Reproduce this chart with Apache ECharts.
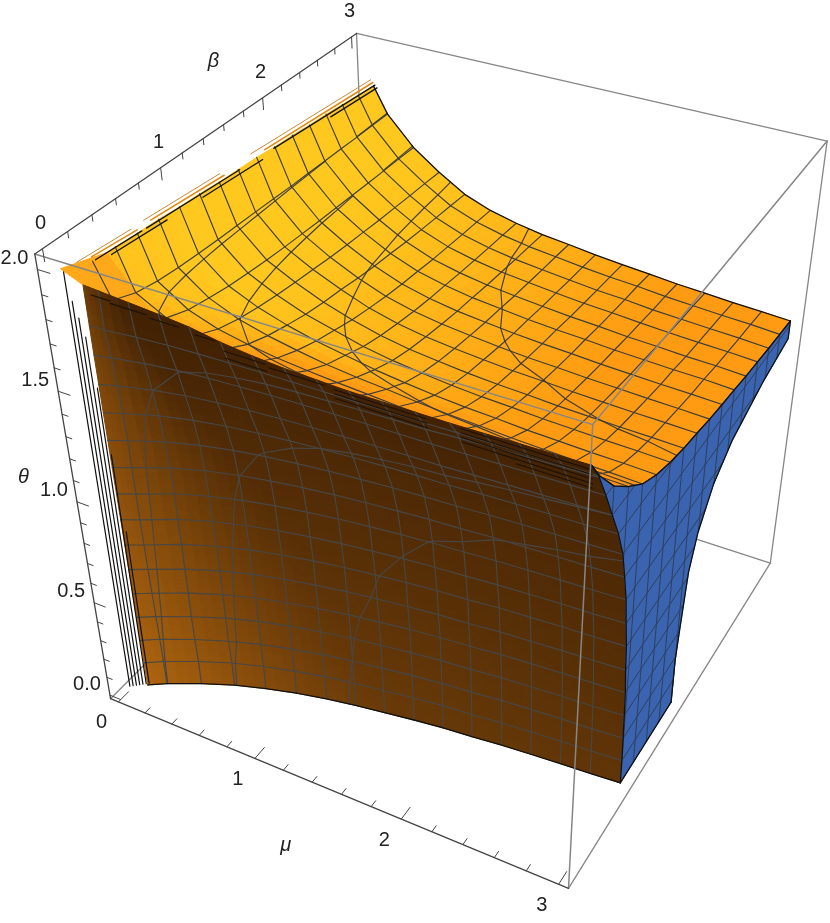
<!DOCTYPE html>
<html>
<head>
<meta charset="utf-8">
<title>Region plot</title>
<script src="https://cdn.jsdelivr.net/npm/echarts@6/dist/echarts.min.js"></script>
<style>
  html, body { margin: 0; background: #fff; }
  #chart { width: 830px; height: 923px; }
</style>
</head>
<body>
<div id="chart"></div>
<script>
// axis ranges of the box, and tick labels
const muRange = [-0.06, 3.06];
const betaRange = [-0.06, 3.06];
const thetaRange = [-0.02, 2.06];
const muLabels = [0, 1, 2, 3];
const betaLabels = [0, 1, 2, 3];
const thetaLabels = ['0.0', '0.5', '1.0', '1.5', '2.0'];

// where the box corners land in the picture, used to fit the camera
// [mu index, beta index, theta index, picture x, picture y]
const cameraCorners = [
  [0, 0, 1, 37.7, 255], [0, 1, 1, 353, 32], [1, 1, 1, 826.7, 140.7], [1, 0, 1, 595, 426],
  [0, 0, 0, 106.7, 696], [1, 0, 0, 568.3, 889.3], [1, 1, 0, 769.3, 561.7], [0, 1, 0, 377, 437]
];

// mesh positions shared by mu and beta
const meshGrid = [0.09, 0.1875, 0.375, 0.5625, 0.75, 0.9375, 1.125, 1.3125, 1.5, 1.6875, 1.875, 2.0625, 2.25, 2.4375, 2.625, 2.8125, 3];

// upper surface: theta at (mu, beta); nearly symmetric so only the upper triangle is kept
const topTheta = [
  [1.985, 1.975, 1.968, 1.96, 1.955, 1.945, 1.94, 1.93, 1.925, 1.92, 1.91, 1.905, 1.895, 1.89, 1.88, 1.87, 1.86],
  [1.837, 1.80, 1.782, 1.773, 1.768, 1.764, 1.762, 1.76, 1.757, 1.754, 1.753, 1.751, 1.75, 1.748, 1.748, 1.746],
  [1.733, 1.698, 1.68, 1.664, 1.654, 1.646, 1.64, 1.636, 1.632, 1.63, 1.627, 1.625, 1.623, 1.622, 1.62],
  [1.654, 1.627, 1.608, 1.594, 1.583, 1.574, 1.564, 1.557, 1.552, 1.546, 1.543, 1.539, 1.537, 1.533],
  [1.593, 1.568, 1.546, 1.531, 1.52, 1.506, 1.495, 1.488, 1.479, 1.473, 1.468, 1.464, 1.459],
  [1.537, 1.513, 1.49, 1.473, 1.459, 1.448, 1.441, 1.432, 1.427, 1.422, 1.419, 1.414],
  [1.48, 1.457, 1.441, 1.427, 1.417, 1.411, 1.403, 1.398, 1.393, 1.39, 1.385],
  [1.434, 1.419, 1.406, 1.396, 1.39, 1.382, 1.377, 1.372, 1.369, 1.364],
  [1.404, 1.392, 1.382, 1.376, 1.368, 1.363, 1.358, 1.355, 1.35],
  [1.379, 1.369, 1.363, 1.355, 1.35, 1.344, 1.34, 1.334],
  [1.36, 1.353, 1.344, 1.338, 1.332, 1.328, 1.322],
  [1.346, 1.336, 1.33, 1.324, 1.32, 1.312],
  [1.326, 1.32, 1.312, 1.308, 1.30],
  [1.312, 1.305, 1.30, 1.292],
  [1.298, 1.292, 1.283],
  [1.286, 1.277],
  [1.27]
];
// theta along the crest, where the upper surface meets the wall (beta = 0.09), one per mu in meshGrid
const crestTheta = [1.915, 1.91, 1.9, 1.89, 1.877, 1.855, 1.84, 1.83, 1.825, 1.82, 1.82, 1.82, 1.82, 1.822, 1.825, 1.828, 1.83];

// front wall: beta at (theta row, mu column); the last row is the crest
const wallThetaRows = [0, 0.125, 0.25, 0.375, 0.5, 0.625, 0.75, 0.875, 1, 1.125, 1.25, 1.375, 1.5, 1.625, 1.75, 1.845];
const wallBeta = [
  [0.12, 0.185, 0.285, 0.37, 0.435, 0.49, 0.535, 0.57, 0.60, 0.63, 0.655, 0.672, 0.695, 0.71, 0.725, 0.737, 0.752],
  [0.118, 0.183, 0.283, 0.368, 0.433, 0.488, 0.533, 0.568, 0.598, 0.628, 0.653, 0.67, 0.693, 0.708, 0.723, 0.735, 0.75],
  [0.115, 0.178, 0.275, 0.358, 0.426, 0.48, 0.525, 0.563, 0.593, 0.623, 0.647, 0.664, 0.687, 0.702, 0.717, 0.727, 0.743],
  [0.112, 0.172, 0.27, 0.356, 0.424, 0.476, 0.521, 0.559, 0.588, 0.617, 0.641, 0.658, 0.68, 0.694, 0.709, 0.719, 0.735],
  [0.11, 0.167, 0.269, 0.353, 0.42, 0.472, 0.515, 0.552, 0.581, 0.61, 0.633, 0.649, 0.671, 0.685, 0.699, 0.709, 0.725],
  [0.108, 0.162, 0.266, 0.348, 0.413, 0.463, 0.505, 0.541, 0.568, 0.595, 0.617, 0.633, 0.654, 0.667, 0.68, 0.69, 0.704],
  [0.106, 0.158, 0.264, 0.345, 0.408, 0.457, 0.498, 0.532, 0.559, 0.585, 0.606, 0.621, 0.641, 0.654, 0.667, 0.676, 0.69],
  [0.104, 0.154, 0.26, 0.338, 0.398, 0.444, 0.483, 0.515, 0.541, 0.565, 0.585, 0.599, 0.617, 0.629, 0.641, 0.649, 0.662],
  [0.102, 0.152, 0.256, 0.331, 0.389, 0.433, 0.469, 0.5, 0.524, 0.546, 0.565, 0.578, 0.595, 0.606, 0.617, 0.625, 0.637],
  [0.1, 0.15, 0.249, 0.319, 0.373, 0.413, 0.446, 0.474, 0.495, 0.515, 0.532, 0.543, 0.559, 0.568, 0.578, 0.585, 0.595],
  [0.098, 0.147, 0.235, 0.30, 0.348, 0.383, 0.412, 0.435, 0.454, 0.471, 0.485, 0.495, 0.51, 0.52, 0.53, 0.538, 0.549],
  [0.096, 0.14, 0.215, 0.269, 0.308, 0.336, 0.358, 0.376, 0.391, 0.403, 0.414, 0.421, 0.435, 0.445, 0.453, 0.46, 0.472],
  [0.094, 0.131, 0.186, 0.226, 0.254, 0.273, 0.289, 0.301, 0.31, 0.318, 0.326, 0.33, 0.34, 0.35, 0.358, 0.367, 0.376],
  [0.092, 0.117, 0.155, 0.184, 0.201, 0.214, 0.224, 0.231, 0.236, 0.241, 0.245, 0.248, 0.255, 0.262, 0.268, 0.275, 0.281],
  [0.091, 0.094, 0.116, 0.131, 0.14, 0.145, 0.15, 0.153, 0.155, 0.157, 0.159, 0.16, 0.165, 0.168, 0.172, 0.175, 0.179],
  [0.09, 0.09, 0.09, 0.09, 0.09, 0.09, 0.09, 0.09, 0.09, 0.09, 0.09, 0.09, 0.09, 0.09, 0.09, 0.09, 0.09]
];

// right edge of the blue cap in the plane mu = 3, from the bottom up: [beta, theta]
const capRightEdge = [[1.5, 0], [1.5, 0.23], [1.53, 0.39], [1.585, 0.65], [1.68, 0.8], [1.87, 0.95], [2.13, 1.05], [2.58, 1.135], [3, 1.185]];

// hair lines along the back left edge: [mu, beta from, theta from, beta to, theta to]
const hairOrangeThin = [[0.07, 0.09, 2, 0.54, 1.98], [0.07, 0.65, 1.98, 1.35, 1.95], [0.07, 1.66, 1.94, 3, 1.886]];
const hairOrange = [[0.085, 0.19, 1.99, 0.57, 1.97], [0.085, 0.69, 1.97, 1.37, 1.94], [0.085, 1.78, 1.925, 3, 1.876]];
const hairBlack = [
  [0.1, 0.2, 1.978, 0.59, 1.962], [0.1, 0.63, 1.96, 1.5, 1.926], [0.1, 1.85, 1.912, 3, 1.866],
  [0.115, 0.31, 1.964, 0.79, 1.944], [0.115, 1.12, 1.931, 1.71, 1.908], [0.115, 2.45, 1.878, 3, 1.856]
];
// dark lines just under the crest: [beta, theta, mu from, mu to]
const crestLines = [
  [0.095, 1.88, 0.13, 0.25], [0.095, 1.87, 0.25, 0.48], [0.095, 1.86, 0.5, 0.68], [0.095, 1.85, 0.78, 0.9],
  [0.095, 1.82, 0.95, 1.2], [0.095, 1.81, 1.22, 1.55], [0.095, 1.805, 1.6, 2.12], [0.095, 1.81, 2.31, 3],
  [0.1, 1.79, 0.95, 1.2], [0.1, 1.785, 1.6, 2.12], [0.1, 1.79, 2.31, 3],
  [0.105, 1.765, 1.6, 2.12], [0.105, 1.77, 2.31, 3],
  [0.11, 1.75, 2.31, 3], [0.115, 1.73, 2.6, 3]
];
// stacked lines at the left of the wall
const stackMu = [0, 0.015, 0.03, 0.045, 0.06, 0.075, 0.088];
const stackBeta = [0.06, 0.073, 0.086, 0.099, 0.112, 0.125, 0.137];
const stackTop = [1.96, 1.84, 1.77, 1.69, 1.47, 1.17, 0.8];
// small piece of the surface at the sharp left tip: [mu, beta, theta]
const tipFace = [[0.02, 0.02, 1.99], [0.09, 0.09, 1.915], [0.5, 0.09, 1.9], [0.09, 0.3, 1.97]];

const wallLevels = [0.1875, 0.375, 0.5625, 0.75];
const topLevels = [1.375, 1.5, 1.625, 1.75];

// ---- camera: fit the projective map from the box corners
function solve(A, y) {
  const n = y.length;
  for (let c = 0; c < n; c++) {
    let p = c;
    for (let r = c + 1; r < n; r++) if (Math.abs(A[r][c]) > Math.abs(A[p][c])) p = r;
    [A[c], A[p]] = [A[p], A[c]];
    [y[c], y[p]] = [y[p], y[c]];
    for (let r = c + 1; r < n; r++) {
      const f = A[r][c] / A[c][c];
      for (let k = c; k < n; k++) A[r][k] -= f * A[c][k];
      y[r] -= f * y[c];
    }
  }
  const x = new Array(n).fill(0);
  for (let r = n - 1; r >= 0; r--) {
    let s = y[r];
    for (let k = r + 1; k < n; k++) s -= A[r][k] * x[k];
    x[r] = s / A[r][r];
  }
  return x;
}
function fitCamera() {
  const rows = [], rhs = [];
  cameraCorners.forEach(function (c) {
    const m = muRange[c[0]], b = betaRange[c[1]], t = thetaRange[c[2]];
    rows.push([1, m, b, t, 0, 0, 0, 0, -c[3] * m, -c[3] * b, -c[3] * t]); rhs.push(c[3]);
    rows.push([0, 0, 0, 0, 1, m, b, t, -c[4] * m, -c[4] * b, -c[4] * t]); rhs.push(c[4]);
  });
  const N = rows[0].map((_, i) => rows[0].map((_, j) => rows.reduce((s, r) => s + r[i] * r[j], 0)));
  const v = rows[0].map((_, i) => rows.reduce((s, r, k) => s + r[i] * rhs[k], 0));
  return solve(N, v);
}
const cam = fitCamera();
function project(p) {
  const w = 1 + cam[8] * p[0] + cam[9] * p[1] + cam[10] * p[2];
  return [
    (cam[0] + cam[1] * p[0] + cam[2] * p[1] + cam[3] * p[2]) / w,
    (cam[4] + cam[5] * p[0] + cam[6] * p[1] + cam[7] * p[2]) / w
  ];
}

// ---- surface access
const last = meshGrid.length - 1;
const crestRow = wallThetaRows.length - 1;
function topValue(i, j) {
  if (j === 0) return crestTheta[i];
  return i <= j ? topTheta[i][j - i] : topTheta[j][i - j];
}
function topPoint(i, j) { return [meshGrid[i], meshGrid[j], topValue(i, j)]; }
function wallPoint(i, k) {
  return [meshGrid[i], wallBeta[k][i], k === crestRow ? crestTheta[i] : wallThetaRows[k]];
}

const capOutline = [];
wallThetaRows.forEach((t, k) => capOutline.push([wallBeta[k][last], wallPoint(last, k)[2]]));
meshGrid.forEach((b, j) => capOutline.push([b, topValue(last, j)]));
capRightEdge.slice().reverse().forEach(p => capOutline.push(p));
function capSpan(axis, v) {
  const hits = [];
  capOutline.forEach(function (p, n) {
    const q = capOutline[(n + 1) % capOutline.length];
    if ((p[axis] - v) * (q[axis] - v) <= 0 && p[axis] !== q[axis]) {
      hits.push(p[1 - axis] + (q[1 - axis] - p[1 - axis]) * (v - p[axis]) / (q[axis] - p[axis]));
    }
  });
  return hits.length ? [Math.min.apply(null, hits), Math.max.apply(null, hits)] : null;
}

// ---- colours
function clamp(x) { return Math.max(0, Math.min(1, x)); }
function mix(a, b, t) { return [0, 1, 2].map(n => a[n] + (b[n] - a[n]) * t); }
function rgb(c) { return 'rgb(' + c.map(Math.round).join(',') + ')'; }
function topColor(p) {
  const mu = p[0], beta = p[1];
  const y = clamp((2.3 - mu) / 1.9) * clamp((beta - 0.15 + clamp(1 - mu) * 0.6) / 0.8);
  let c = mix([255, 155, 18], [255, 200, 30], y);
  c = mix(c, [255, 135, 14], clamp((0.9 - beta) / 0.7) * clamp(mu / 1.2));
  return mix(c, [222, 122, 14], clamp((0.4 - beta) / 0.3) * clamp((mu - 1.8) / 1.2));
}
function wallColor(p) {
  const mu = p[0], theta = p[2];
  const w = 1.6 - 0.65 * theta;
  const t = (0.4 - 0.05 * mu) * clamp(1 - theta / 1.85) + 0.55 * Math.pow(clamp(1 - mu / w), 1.6);
  return mix([66, 34, 4], [186, 108, 16], clamp(t));
}

// ---- contour lines on a table of points
function contour(nI, nJ, pointAt, valueAt, level) {
  const segs = [];
  function cross(a, b, va, vb) {
    const t = (level - va) / (vb - va);
    return a.map((v, n) => v + (b[n] - v) * t);
  }
  for (let i = 0; i < nI - 1; i++) for (let j = 0; j < nJ - 1; j++) {
    const cell = [[i, j], [i + 1, j], [i + 1, j + 1], [i, j + 1]];
    const hits = [];
    cell.forEach(function (a, n) {
      const b = cell[(n + 1) % 4];
      const va = valueAt(a[0], a[1]), vb = valueAt(b[0], b[1]);
      if ((va - level) * (vb - level) < 0) hits.push(cross(pointAt(a[0], a[1]), pointAt(b[0], b[1]), va, vb));
    });
    if (hits.length >= 2) segs.push([hits[0], hits[1]]);
    if (hits.length === 4) segs.push([hits[2], hits[3]]);
  }
  return segs;
}

// ---- drawing helpers
function line(api, pts, color, width) {
  return {
    type: 'polyline',
    shape: { points: pts.map(p => api.coord(project(p))) },
    style: { fill: null, stroke: color, lineWidth: width, lineCap: 'round', lineJoin: 'round' }
  };
}
function face(api, pts, color) {
  return {
    type: 'polygon',
    shape: { points: pts.map(p => api.coord(project(p))) },
    style: { fill: color, stroke: color, lineWidth: 1 }
  };
}
// one mesh cell, shaded in small steps so the colour runs smoothly across it
function shadedCell(api, out, a, b, c, d, colorAt, steps) {
  function at(u, v) {
    return a.map((_, n) => a[n] * (1 - u) * (1 - v) + b[n] * u * (1 - v) + c[n] * u * v + d[n] * (1 - u) * v);
  }
  for (let s = 0; s < steps; s++) for (let r = 0; r < steps; r++) {
    const u0 = s / steps, u1 = (s + 1) / steps, v0 = r / steps, v1 = (r + 1) / steps;
    const col = colorAt(at((u0 + u1) / 2, (v0 + v1) / 2));
    out.push(face(api, [at(u0, v0), at(u1, v0), at(u1, v1), at(u0, v1)], rgb(col)));
  }
}
function text(api, p, dx, dy, str, italic) {
  const c = api.coord(project(p));
  return {
    type: 'text', x: c[0] + dx, y: c[1] + dy,
    style: {
      text: String(str), fill: '#222', align: 'center', verticalAlign: 'middle',
      fontFamily: 'Liberation Sans', fontSize: 20,
      fontStyle: italic ? 'italic' : 'normal'
    }
  };
}
function layer(build) {
  return {
    type: 'custom', coordinateSystem: 'cartesian2d', silent: true, animation: false, clip: false,
    data: [[0, 0]],
    renderItem: function (params, api) { return { type: 'group', children: build(api) }; }
  };
}

const M0 = muRange[0], M1 = muRange[1], B0 = betaRange[0], B1 = betaRange[1], T0 = thetaRange[0], T1 = thetaRange[1];
const GRAY = '#868686', AXIS = '#444444', MESH = '#474747', TOP_MESH = '#3d3d3d', CAP_MESH = '#2f3f5c';

function backFrame(api) {
  return [
    line(api, [[M0, B1, T1], [M0, B1, T0]], GRAY, 1.3),
    line(api, [[M0, B1, T0], [M0, B0, T0]], GRAY, 1.3),
    line(api, [[M0, B1, T0], [M1, B1, T0]], GRAY, 1.3),
    line(api, [[M0, B1, T1], [M1, B1, T1]], GRAY, 1.3),
    line(api, [[M1, B1, T1], [M1, B1, T0]], GRAY, 1.3),
    line(api, [[M1, B0, T0], [M1, B1, T0]], GRAY, 1.3)
  ];
}
// upper surface goes first: the wall stands in front of it
function topLayer(api) {
  const out = [];
  for (let i = 0; i < last; i++) for (let j = 0; j < last; j++) {
    shadedCell(api, out, topPoint(i, j), topPoint(i + 1, j), topPoint(i + 1, j + 1), topPoint(i, j + 1), topColor, 2);
  }
  out.push(face(api, tipFace, '#ffa81a'));
  for (let i = 1; i < last; i++) {
    out.push(line(api, meshGrid.map((_, j) => topPoint(i, j)), TOP_MESH, 1.15));
    out.push(line(api, meshGrid.map((_, j) => topPoint(j, i)), TOP_MESH, 1.15));
  }
  topLevels.forEach(function (lv) {
    contour(meshGrid.length, meshGrid.length, topPoint, topValue, lv)
      .forEach(s => out.push(line(api, s, TOP_MESH, 1.15)));
  });
  out.push(line(api, meshGrid.map((_, i) => topPoint(i, last)), '#111', 1.3));
  out.push(line(api, meshGrid.map((_, j) => topPoint(last, j)), '#111', 1.3));
  hairOrangeThin.forEach(h => out.push(line(api, [[h[0], h[1], h[2]], [h[0], h[3], h[4]]], '#c98a35', 1)));
  hairOrange.forEach(h => out.push(line(api, [[h[0], h[1], h[2]], [h[0], h[3], h[4]]], '#e08a10', 1.6)));
  hairBlack.forEach(h => out.push(line(api, [[h[0], h[1], h[2]], [h[0], h[3], h[4]]], '#111', 1.3)));
  return out;
}
function wallLayer(api) {
  const out = [];
  for (let k = 0; k < crestRow; k++) for (let i = 0; i < last; i++) {
    shadedCell(api, out, wallPoint(i, k), wallPoint(i + 1, k), wallPoint(i + 1, k + 1), wallPoint(i, k + 1), wallColor, 3);
  }
  for (let k = 1; k < crestRow; k++) {
    out.push(line(api, meshGrid.map((_, i) => wallPoint(i, k)), MESH, 1.15));
  }
  for (let i = 1; i < last; i++) {
    out.push(line(api, wallThetaRows.map((_, k) => wallPoint(i, k)), MESH, 1.15));
  }
  wallLevels.forEach(function (lv) {
    contour(meshGrid.length, wallThetaRows.length, wallPoint, (i, k) => wallBeta[k][i], lv)
      .forEach(s => out.push(line(api, s, MESH, 1.15)));
  });
  crestLines.forEach(h => out.push(line(api, [[h[2], h[0], h[1]], [h[3], h[0], h[1]]], '#1c1206', 1.1)));
  stackMu.forEach(function (m, n) {
    out.push(line(api, [[m, stackBeta[n], stackTop[n]], [m, stackBeta[n], 0]], '#111', 1.2));
  });
  out.push(line(api, meshGrid.map((_, i) => wallPoint(i, 0)), '#111', 1.3));
  return out;
}
function capLayer(api) {
  const out = [face(api, capOutline.map(p => [3, p[0], p[1]]), '#3a63b0')];
  for (let j = 1; j < last; j++) {
    const s = capSpan(0, meshGrid[j]);
    if (s) out.push(line(api, [[3, meshGrid[j], s[0]], [3, meshGrid[j], s[1]]], CAP_MESH, 1));
  }
  wallThetaRows.slice(1, -1).forEach(function (t) {
    const s = capSpan(1, t);
    if (s) out.push(line(api, [[3, s[0], t], [3, s[1], t]], CAP_MESH, 1));
  });
  out.push(line(api, wallThetaRows.map((_, k) => wallPoint(last, k)), '#111', 1.3));
  out.push(line(api, meshGrid.map((_, j) => topPoint(last, j)), '#111', 1.3));
  out.push(line(api, capRightEdge.map(p => [3, p[0], p[1]]).concat([[3, 3, topValue(last, last)]]), '#111', 1.3));
  out.push(line(api, [[3, wallBeta[0][last], 0], [3, capRightEdge[0][0], 0]], '#111', 1.3));
  return out;
}
function frontFrame(api) {
  const out = [
    line(api, [[M0, B0, T1], [M1, B0, T1]], GRAY, 1.5),
    line(api, [[M1, B0, T1], [M1, B1, T1]], GRAY, 1.5),
    line(api, [[M1, B0, T1], [M1, B0, T0]], GRAY, 1.5),
    line(api, [[M0, B0, T1], [M0, B1, T1]], AXIS, 1.3),
    line(api, [[M0, B0, T1], [M0, B0, T0]], AXIS, 1.3),
    line(api, [[M0, B0, T0], [M1, B0, T0]], AXIS, 1.3)
  ];
  for (let n = 0; n <= 15; n++) {
    const v = n / 5, major = n % 5 === 0;
    out.push(line(api, [[v, B0, T0], [v, B0 + (major ? 0.1 : 0.05), T0]], AXIS, 1));
    out.push(line(api, [[M0, v, T1], [M0, v, T1 - (major ? 0.05 : 0.025)]], AXIS, 1));
  }
  for (let n = 0; n <= 20; n++) {
    const v = n / 10, major = n % 5 === 0;
    out.push(line(api, [[M0, B0, v], [M0 + (major ? 0.08 : 0.04), B0, v]], AXIS, 1));
  }
  return out;
}
function labels(api) {
  const out = [];
  muLabels.forEach(v => out.push(text(api, [v, B0, T0], -17, 21, v)));
  betaLabels.forEach(v => out.push(text(api, [M0, v, T1], -2, -25, v)));
  thetaLabels.forEach(v => out.push(text(api, [M0, B0, +v], -23, -11, v)));
  out.push(text(api, [1.5, B0, T0], -41, 57, 'μ', true));
  out.push(text(api, [M0, 1.5, T1], 0, -70, 'β', true));
  out.push(text(api, [M0, B0, 1.1], -50, -3, 'θ', true));
  return out;
}

const chart = echarts.init(document.getElementById('chart'), null, { renderer: 'canvas' });
chart.setOption({
  backgroundColor: '#ffffff',
  animation: false,
  tooltip: { show: false },
  grid: { left: 0, right: 0, top: 0, bottom: 0 },
  xAxis: { type: 'value', min: 0, max: 830, show: false },
  yAxis: { type: 'value', min: 0, max: 923, inverse: true, show: false },
  series: [backFrame, topLayer, wallLayer, capLayer, frontFrame, labels].map(layer)
});
</script>
</body>
</html>
